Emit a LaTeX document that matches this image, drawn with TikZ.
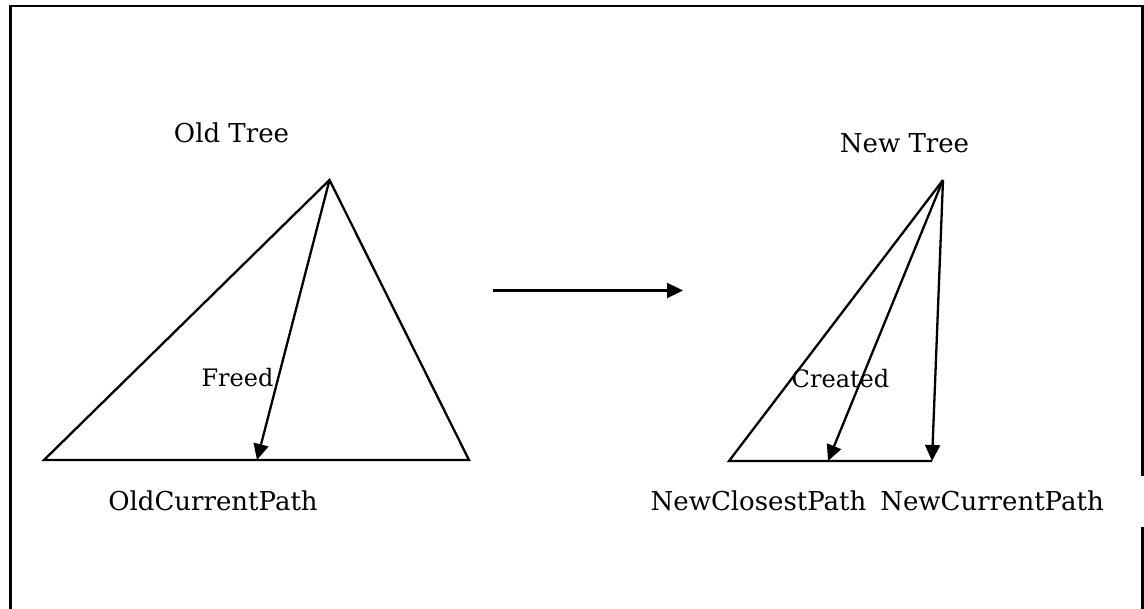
\documentclass[tikz,border=0pt]{standalone}
\usepackage{fontspec}
\setmainfont{DejaVu Serif}
\usetikzlibrary{arrows.meta}
\begin{document}
\begin{tikzpicture}[x=1pt,y=-1pt,
  frame/.style={line width=2.4pt},
  edge/.style={line width=2.3pt, line join=miter},
  arr/.style={line width=2.3pt,-{Triangle[length=16pt,width=15pt]}},
  lbl/.style={font=\fontsize{26}{31}\selectfont, anchor=base, inner sep=0pt},
  smalllbl/.style={font=\fontsize{24}{29}\selectfont, anchor=base, inner sep=0pt}]
\useasboundingbox (0,0) rectangle (1144,609);
% frame
\coordinate (f1) at (10.5,612);
\coordinate (f2) at (10.5,6.3);
\coordinate (f3) at (1142.5,6.3);
\coordinate (f4) at (1142.5,476);
\coordinate (f5) at (1142.5,527);
\coordinate (f6) at (1142.5,612);
\draw[frame] (f1) -- (f2) -- (f3) -- (f4);
\draw[frame] (f5) -- (f6);
% old tree
\coordinate (oa) at (329.5,180);
\coordinate (ol) at (44,460);
\coordinate (or) at (469,460);
\coordinate (of) at (257,460);
\draw[edge] (ol) -- (oa) -- (or) -- cycle;
\draw[arr] (oa) -- (of);
% new tree
\coordinate (na) at (943,180);
\coordinate (nl) at (729,461);
\coordinate (nr) at (932,461);
\coordinate (nc) at (828,461);
\draw[edge] (nr) -- (nl) -- (na);
\draw[arr] (na) -- (nc);
\draw[arr] (na) -- (nr);
% middle arrow
\coordinate (ms) at (493,290.5);
\coordinate (me) at (683,290.5);
\draw[arr] (ms) -- (me);
% labels
\node[lbl] (oldtree) at (231.5,143) {Old Tree};
\node[lbl] (newtree) at (904.5,153) {New Tree};
\node[smalllbl] (freed) at (237.5,387) {Freed};
\node[smalllbl] (created) at (840.5,388) {Created};
\node[lbl] (ocp) at (213,511) {OldCurrentPath};
\node[lbl] (ncl) at (758.5,511) {NewClosestPath};
\node[lbl] (ncu) at (992,511) {NewCurrentPath};
\end{tikzpicture}
\end{document}
